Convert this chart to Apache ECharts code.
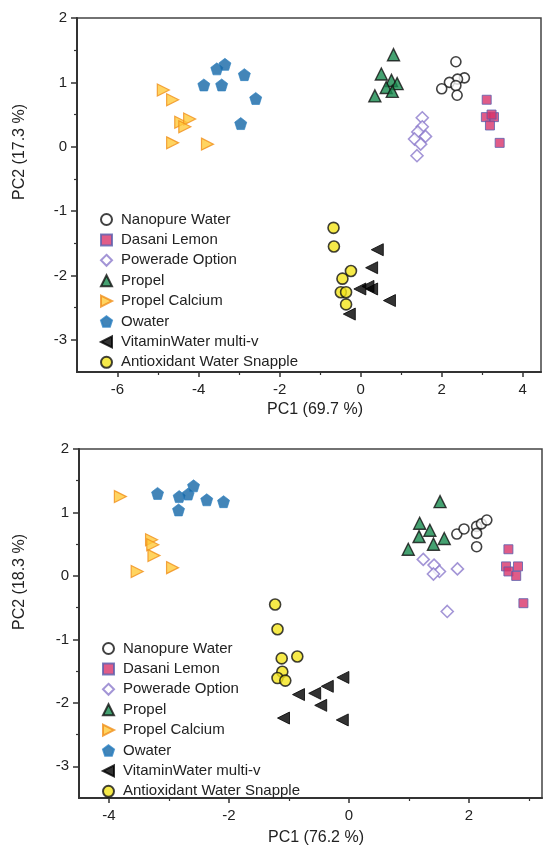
<!DOCTYPE html>
<html>
<head>
<meta charset="utf-8">
<script src="https://cdn.jsdelivr.net/npm/echarts@6/dist/echarts.min.js"></script>
<style>
  body { margin: 0; background: #fff; }
  #top, #bottom { position: absolute; left: 0; width: 543px; height: 425px; }
  #top { top: 0; }
  #bottom { top: 425px; }
</style>
</head>
<body>
<div id="top"></div>
<div id="bottom"></div>
<script>
// 图例名称
const names = ['Nanopure Water', 'Dasani Lemon', 'Powerade Option', 'Propel',
  'Propel Calcium', 'Owater', 'VitaminWater multi-v', 'Antioxidant Water Snapple'];

// 上图 数据 (PC1, PC2)
const nanopure1 = [[2.35, 1.32], [2.56, 1.07], [2.39, 1.05], [2.19, 1.0], [2.0, 0.9], [2.35, 0.95], [2.38, 0.8]];
const dasani1 = [[3.11, 0.73], [3.09, 0.46], [3.29, 0.46], [3.19, 0.33], [3.23, 0.5], [3.43, 0.06]];
const powerade1 = [[1.52, 0.45], [1.52, 0.31], [1.41, 0.23], [1.6, 0.16], [1.33, 0.12], [1.48, 0.04], [1.39, -0.14]];
const propel1 = [[0.81, 1.43], [0.51, 1.13], [0.76, 1.03], [0.9, 0.98], [0.63, 0.92], [0.78, 0.86], [0.35, 0.79]];
const calcium1 = [[-4.87, 0.88], [-4.64, 0.73], [-4.44, 0.38], [-4.22, 0.43], [-4.34, 0.31], [-4.64, 0.06], [-3.78, 0.04]];
const owater1 = [[-3.87, 0.96], [-3.55, 1.21], [-3.35, 1.28], [-3.43, 0.96], [-2.87, 1.12], [-2.59, 0.75], [-2.96, 0.36]];
const vitamin1 = [[0.41, -1.6], [0.27, -1.88], [-0.02, -2.21], [0.18, -2.17], [0.27, -2.21], [0.71, -2.39], [-0.28, -2.6]];
const snapple1 = [[-0.67, -1.26], [-0.66, -1.55], [-0.24, -1.93], [-0.45, -2.05], [-0.49, -2.26], [-0.36, -2.26], [-0.36, -2.45]];

// 下图 数据
const nanopure2 = [[1.8, 0.66], [1.92, 0.74], [2.13, 0.78], [2.21, 0.82], [2.3, 0.88], [2.13, 0.67], [2.13, 0.46]];
const dasani2 = [[2.66, 0.42], [2.62, 0.15], [2.82, 0.15], [2.66, 0.07], [2.79, 0.0], [2.91, -0.43]];
const powerade2 = [[1.24, 0.26], [1.42, 0.17], [1.51, 0.07], [1.41, 0.03], [1.81, 0.11], [1.64, -0.56]];
const propel2 = [[1.52, 1.17], [1.18, 0.83], [1.35, 0.72], [1.17, 0.62], [1.41, 0.5], [1.59, 0.59], [0.99, 0.42]];
const calcium2 = [[-3.81, 1.25], [-3.29, 0.57], [-3.27, 0.49], [-3.25, 0.32], [-3.53, 0.07], [-2.94, 0.13]];
const owater2 = [[-3.19, 1.3], [-2.83, 1.25], [-2.68, 1.29], [-2.59, 1.42], [-2.37, 1.2], [-2.09, 1.17], [-2.84, 1.04]];
const vitamin2 = [[-0.1, -1.6], [-0.36, -1.74], [-0.57, -1.85], [-0.84, -1.87], [-0.47, -2.04], [-1.09, -2.24], [-0.11, -2.27]];
const snapple2 = [[-1.23, -0.45], [-1.19, -0.84], [-1.12, -1.3], [-0.86, -1.27], [-1.11, -1.51], [-1.19, -1.61], [-1.06, -1.65]];

// 刻度
const yTicks = [-3, -2, -1, 0, 1, 2];
const yMinor = [-2.5, -1.5, -0.5, 0.5, 1.5];
const xTicks1 = [-6, -4, -2, 0, 2, 4];
const xMinor1 = [-5, -3, -1, 1, 3];
const xTicks2 = [-4, -2, 0, 2];
const xMinor2 = [-3, -1, 1, 3];

const FONT = '"Liberation Sans", Arial, sans-serif';

// 各系列的符号样式
const styles = [
  { symbol: 'circle', symbolSize: 10, itemStyle: { color: '#fff', borderColor: '#111', borderWidth: 1.6 } },
  { symbol: 'rect', symbolSize: 9, itemStyle: { color: '#d8336a', borderColor: '#5a5fae', borderWidth: 1 } },
  { symbol: 'diamond', symbolSize: 12, itemStyle: { color: '#fff', borderColor: '#8c7bcc', borderWidth: 1.6 } },
  { symbol: 'triangle', symbolSize: 12, itemStyle: { color: '#168a4e', borderColor: '#111', borderWidth: 1.4 } },
  { symbol: 'path://M0,0 L10,5 L0,10 Z', symbolSize: 12, itemStyle: { color: '#ffc93a', borderColor: '#f0901c', borderWidth: 1.2 } },
  { symbol: 'path://M0,-1 L0.951,-0.309 L0.588,0.809 L-0.588,0.809 L-0.951,-0.309 Z', symbolSize: 12, itemStyle: { color: '#1466a6', borderColor: '#2a80c0', borderWidth: 0.8 } },
  { symbol: 'path://M0,5 L10,0 L10,10 Z', symbolSize: 12, itemStyle: { color: '#000', borderColor: '#000', borderWidth: 1 } },
  { symbol: 'circle', symbolSize: 11, itemStyle: { color: '#f4e51c', borderColor: '#111', borderWidth: 1.6 } }
];

function makeOption(sets, cfg) {
  const axisLine = { show: true, onZero: false, lineStyle: { color: '#333', width: 2 } };
  const label = { color: '#222', fontSize: 15, fontFamily: FONT };
  return {
    animation: false,
    textStyle: { fontFamily: FONT },
    grid: {
      left: cfg.grid[0], top: cfg.grid[1], width: cfg.grid[2], height: cfg.grid[3],
      show: true, borderColor: '#444', borderWidth: 1.5, backgroundColor: 'transparent'
    },
    legend: {
      orient: 'vertical', left: cfg.legend[0], top: cfg.legend[1],
      itemWidth: 11, itemHeight: 11, itemGap: 5.4,
      textStyle: { color: '#222', fontSize: 15, fontFamily: FONT, lineHeight: 15, padding: [0, 0, 0, 4] },
      data: names
    },
    xAxis: [
      {
        type: 'value', min: cfg.xMin, max: cfg.xMax, position: 'bottom',
        axisLine: axisLine, splitLine: { show: false },
        axisTick: { show: true, length: 5, customValues: cfg.xTicks, lineStyle: { color: '#333', width: 1.5 } },
        axisLabel: Object.assign({ margin: 10, customValues: cfg.xTicks }, label)
      },
      {
        type: 'value', min: cfg.xMin, max: cfg.xMax, position: 'bottom',
        axisLine: { show: false, onZero: false }, splitLine: { show: false }, axisLabel: { show: false },
        axisTick: { show: true, length: 3, customValues: cfg.xMinor, lineStyle: { color: '#333', width: 1.2 } }
      }
    ],
    yAxis: [
      {
        type: 'value', min: -3.5, max: 2, position: 'left',
        axisLine: axisLine, splitLine: { show: false },
        axisTick: { show: true, length: 6, customValues: yTicks, lineStyle: { color: '#333', width: 1.5 } },
        axisLabel: Object.assign({ margin: 10, customValues: yTicks }, label)
      },
      {
        type: 'value', min: -3.5, max: 2, position: 'left',
        axisLine: { show: false, onZero: false }, splitLine: { show: false }, axisLabel: { show: false },
        axisTick: { show: true, length: 3, customValues: yMinor, lineStyle: { color: '#333', width: 1.2 } }
      }
    ],
    graphic: [
      {
        type: 'text', x: 20, y: cfg.yName[1], rotation: Math.PI / 2,
        style: { text: cfg.yName[0], fill: '#222', font: '16px ' + FONT, textAlign: 'center', textVerticalAlign: 'middle' }
      },
      {
        type: 'text', x: cfg.xName[1], y: cfg.xName[2],
        style: { text: cfg.xName[0], fill: '#222', font: '16px ' + FONT, textAlign: 'center', textVerticalAlign: 'middle' }
      }
    ],
    series: sets.map(function (d, i) {
      return Object.assign({ type: 'scatter', name: names[i], data: d, xAxisIndex: 0, yAxisIndex: 0 }, styles[i]);
    })
  };
}

const chartTop = echarts.init(document.getElementById('top'));
chartTop.setOption(makeOption(
  [nanopure1, dasani1, powerade1, propel1, calcium1, owater1, vitamin1, snapple1],
  {
    grid: [77, 18, 464, 354], legend: [95, 207],
    xMin: -7, xMax: 4.45, xTicks: xTicks1, xMinor: xMinor1,
    yName: ['PC2 (17.3 %)', 152], xName: ['PC1 (69.7 %)', 315, 410]
  }
));

const chartBottom = echarts.init(document.getElementById('bottom'));
chartBottom.setOption(makeOption(
  [nanopure2, dasani2, powerade2, propel2, calcium2, owater2, vitamin2, snapple2],
  {
    grid: [79, 24, 463, 349], legend: [97, 211],
    xMin: -4.5, xMax: 3.22, xTicks: xTicks2, xMinor: xMinor2,
    yName: ['PC2 (18.3 %)', 157], xName: ['PC1 (76.2 %)', 316, 413]
  }
));
</script>
</body>
</html>
